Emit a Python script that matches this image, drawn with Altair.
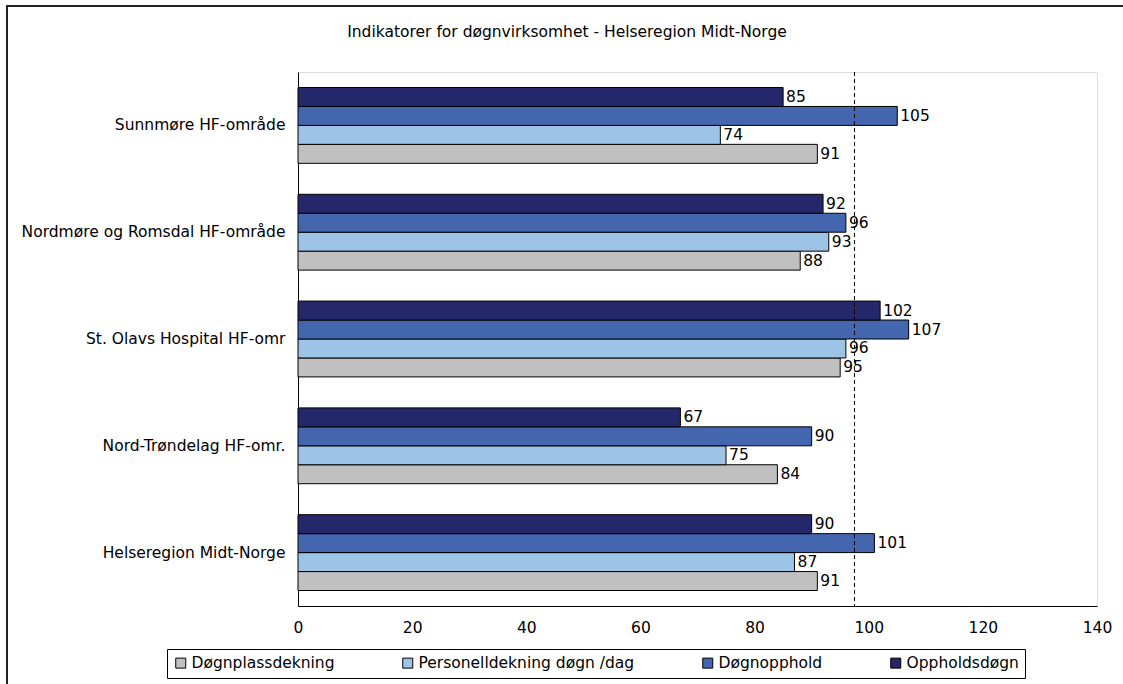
import altair as alt
import pandas as pd

# Hospital regions, top to bottom
regions = [
    "Sunnmøre HF-område",
    "Nordmøre og Romsdal HF-område",
    "St. Olavs Hospital HF-omr",
    "Nord-Trøndelag HF-omr.",
    "Helseregion Midt-Norge",
]

# Indicator series (legend order)
series = ["Døgnplassdekning", "Personelldekning døgn /dag", "Døgnopphold", "Oppholdsdøgn"]

# Indicator values per region
dognplassdekning = [91, 88, 95, 84, 91]
personelldekning = [74, 93, 96, 75, 87]
dognopphold = [105, 96, 107, 90, 101]
oppholdsdogn = [85, 92, 102, 67, 90]

colors = ["#C0C0C0", "#9DC3E6", "#4366AE", "#25276B"]
reference_level = 97.5
x_ticks = [0, 20, 40, 60, 80, 100, 120, 140]
title_text = "Indikatorer for døgnvirksomhet - Helseregion Midt-Norge"

FONT = "DejaVu Sans"
FS = 15.5
W, H = 799, 534
PAD = {"left": 298, "top": 72, "right": 26, "bottom": 78}

rows = []
for name, vals in zip(series, [dognplassdekning, personelldekning, dognopphold, oppholdsdogn]):
    for region, v in zip(regions, vals):
        rows.append({"region": region, "series": name, "value": v})
df = pd.DataFrame(rows)

y_enc = alt.Y(
    "region:N",
    sort=regions,
    scale=alt.Scale(paddingInner=0.29, paddingOuter=0.145),
    axis=alt.Axis(
        title=None, ticks=False, domain=True, domainColor="black",
        labelPadding=13, labelFontSize=FS, labelFont=FONT, labelColor="black",
        labelLimit=400,
    ),
)
yoff_enc = alt.YOffset(
    "series:N",
    sort=list(reversed(series)),
    scale=alt.Scale(paddingInner=0, paddingOuter=0),
)
x_enc = alt.X(
    "value:Q",
    scale=alt.Scale(domain=[0, 140], nice=False),
    axis=alt.Axis(
        title=None, values=x_ticks, grid=False, ticks=False, domain=True,
        domainColor="black", labelPadding=14, labelFontSize=FS, labelFont=FONT,
        labelColor="black", labelFlush=False, labelOverlap=False,
    ),
)

base = alt.Chart(df)

# outer chart frame
frame = alt.Chart(alt.Data(values=[{}])).mark_rect(
    fill="transparent", stroke="#222222", strokeWidth=2
).encode(
    x=alt.value(-291), x2=alt.value(W + 60), y=alt.value(-66), y2=alt.value(H + 120)
)

bars = base.mark_bar(stroke="black", strokeWidth=1).encode(
    y=y_enc,
    yOffset=yoff_enc,
    x=x_enc,
    color=alt.Color(
        "series:N",
        scale=alt.Scale(domain=series, range=colors),
        legend=alt.Legend(
            title=None, orient="none", legendX=-131, legendY=577,
            direction="horizontal", symbolType="square", symbolSize=100,
            symbolStrokeColor="black", symbolStrokeWidth=1, symbolOpacity=1,
            labelFontSize=FS, labelFont=FONT, labelColor="black",
            strokeColor="black", fillColor="white", padding=6,
            columnPadding=65, labelOffset=3, labelLimit=400,
        ),
    ),
)

labels = base.mark_text(
    align="left", baseline="middle", dx=3, fontSize=FS, font=FONT, color="black"
).encode(y=y_enc, yOffset=yoff_enc, x=x_enc, text="value:Q")

rule = alt.Chart(pd.DataFrame({"ref": [reference_level]})).mark_rule(
    color="black", strokeDash=[4, 3], strokeWidth=1
).encode(x=alt.X("ref:Q"))

title = alt.Chart(alt.Data(values=[{"t": title_text}])).mark_text(
    align="center", baseline="middle", fontSize=FS, font=FONT, color="black"
).encode(text="t:N", x=alt.value(567 - PAD["left"]), y=alt.value(32 - PAD["top"]))

chart = (
    alt.layer(frame, bars, rule, labels, title)
    .properties(width=W, height=H, padding=PAD, autosize=alt.AutoSizeParams(type="none"))
    .configure_view(stroke="#888888", strokeWidth=1)
    .configure(background="white")
)

chart.save("out.html", embed_options={"renderer": "svg", "actions": False})
